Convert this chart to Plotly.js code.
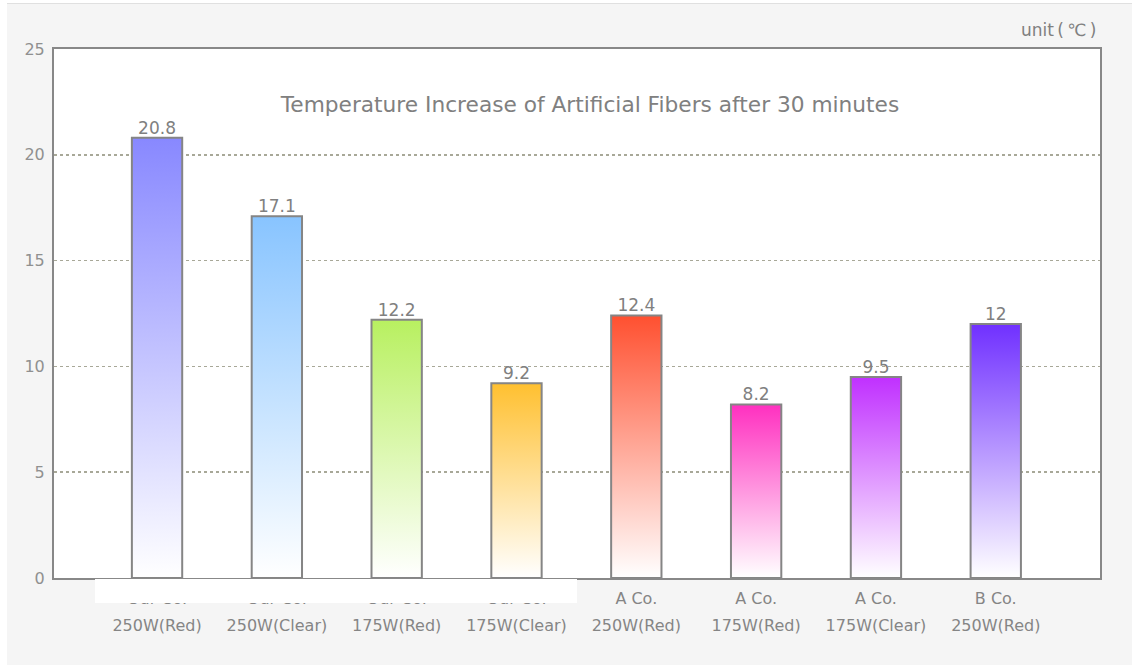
<!DOCTYPE html>
<html>
<head>
<meta charset="utf-8">
<script src="https://cdn.plot.ly/plotly-3.0.1.min.js"></script>
<style>html,body{margin:0;padding:0;background:#f5f5f5;}#chart{width:1132px;height:665px;}</style>
</head>
<body>
<div id="chart"></div>
<script>
const companyLabels = ["Our Co.", "Our Co.", "Our Co.", "Our Co.", "A Co.", "A Co.", "A Co.", "B Co."];
const lampLabels = ["250W(Red)", "250W(Clear)", "175W(Red)", "175W(Clear)", "250W(Red)", "175W(Red)", "175W(Clear)", "250W(Red)"];
const values = [20.8, 17.1, 12.2, 9.2, 12.4, 8.2, 9.5, 12];
const valueLabels = ["20.8", "17.1", "12.2", "9.2", "12.4", "8.2", "9.5", "12"];
const barColors = ["#8888ff", "#88c4ff", "#b8f060", "#ffc030", "#ff5030", "#ff30c0", "#c030ff", "#7030ff"];
const yTicks = [0, 5, 10, 15, 20, 25];

const barWidth = 0.42;
const traces = [];
values.forEach((v, i) => {
  traces.push({
    type: "scatter",
    mode: "lines",
    x: [i - barWidth / 2, i - barWidth / 2, i + barWidth / 2, i + barWidth / 2, i - barWidth / 2],
    y: [0, v, v, 0, 0],
    fill: "toself",
    fillgradient: {type: "vertical", colorscale: [[0, "#ffffff"], [1, barColors[i]]]},
    line: {color: "#858585", width: 2},
    hoverinfo: "skip",
    showlegend: false
  });
});
traces.push({
  type: "scatter",
  mode: "text",
  xaxis: "x2",
  x: values.map((v, i) => i),
  y: values,
  text: valueLabels,
  textposition: "top center",
  textfont: {family: "DejaVu Sans", size: 17, color: "#808080"},
  hoverinfo: "skip",
  showlegend: false
});

const px = p => (p - 54) / 1046;
const py = p => (578 - p) / 529;
const xRange = [-0.86, 7.87];
const xTicks = values.map((v, i) => i);

const layout = {
  width: 1132, height: 665,
  margin: {l: 54, r: 32, t: 49, b: 87},
  paper_bgcolor: "#f5f5f5",
  plot_bgcolor: "#ffffff",
  showlegend: false,
  title: {
    text: "Temperature Increase of Artificial Fibers after 30 minutes",
    font: {family: "DejaVu Sans", size: 21.7, color: "#808080"},
    x: px(590), xref: "paper", xanchor: "center",
    y: py(104), yref: "paper", yanchor: "middle"
  },
  xaxis: {
    range: xRange,
    tickvals: xTicks,
    ticktext: companyLabels,
    tickfont: {family: "DejaVu Sans", size: 16, color: "#858585"},
    showgrid: false, zeroline: false,
    showline: true, linecolor: "#888888", linewidth: 2, mirror: true,
    ticks: "", ticklabelstandoff: 5, fixedrange: true
  },
  xaxis2: {
    range: xRange, overlaying: "x", side: "bottom",
    tickvals: xTicks,
    ticktext: lampLabels,
    tickfont: {family: "DejaVu Sans", size: 16, color: "#858585"},
    showgrid: false, zeroline: false, showline: false,
    ticks: "", ticklabelstandoff: 36, fixedrange: true
  },
  yaxis: {
    range: [0, 25],
    tickvals: yTicks,
    tickfont: {family: "DejaVu Sans", size: 16, color: "#909090"},
    showgrid: true, gridcolor: "#a8a898", griddash: "dot", gridwidth: 1.5,
    zeroline: false,
    showline: true, linecolor: "#888888", linewidth: 2, mirror: true,
    ticks: "", ticklabelstandoff: 4, fixedrange: true
  },
  annotations: [{
    text: "unit\u2009(\u2009℃\u2009)", xref: "paper", yref: "paper",
    x: px(1098), y: py(30), xanchor: "right", yanchor: "middle",
    showarrow: false,
    font: {family: "DejaVu Sans", size: 17, color: "#808080"}
  }],
  shapes: [
    {type: "rect", xref: "paper", yref: "paper", layer: "above",
     x0: px(95), x1: px(577), y0: py(579), y1: py(603),
     fillcolor: "#ffffff", line: {width: 0}},
    {type: "rect", xref: "paper", yref: "paper", layer: "above",
     x0: px(0), x1: px(7), y0: py(0), y1: py(665),
     fillcolor: "#ffffff", line: {width: 0}},
    {type: "rect", xref: "paper", yref: "paper", layer: "above",
     x0: px(0), x1: px(1132), y0: py(3), y1: py(0),
     fillcolor: "#ffffff", line: {width: 0}},
    {type: "line", xref: "paper", yref: "paper", layer: "above",
     x0: px(7), x1: px(1132), y0: py(3.5), y1: py(3.5),
     line: {color: "#e0e0e0", width: 1}}
  ]
};

Plotly.newPlot("chart", traces, layout, {displayModeBar: false, staticPlot: true});
</script>
</body>
</html>
